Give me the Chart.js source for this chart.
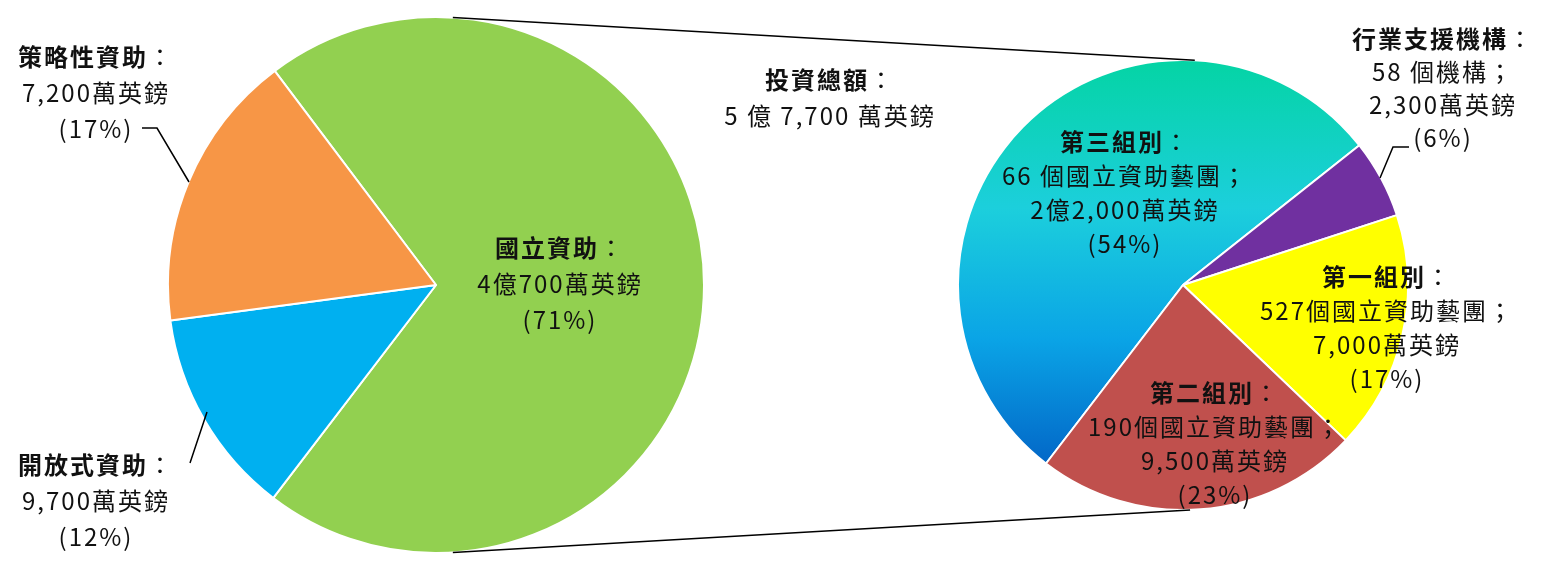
<!DOCTYPE html>
<html>
<head>
<meta charset="utf-8">
<script src="https://cdn.jsdelivr.net/npm/chart.js@4/dist/chart.umd.min.js"></script>
<style>
  body { margin: 0; background: #fff; width: 1545px; height: 575px; overflow: hidden; position: relative; font-family: "Noto Sans CJK TC", "Noto Sans", sans-serif; }
  .box { position: absolute; }
  #lines { position: absolute; left: 0; top: 0; pointer-events: none; }
  .lbl { position: absolute; text-align: center; font-size: 24px; line-height: 36px; color: #111; letter-spacing: 2px; white-space: nowrap; transform: translateX(-50%); }
  .lbl b { font-weight: bold; }
</style>
</head>
<body>
<div class="box" id="leftBox" style="left:167px; top:16px;"><canvas id="leftPie" width="538" height="538"></canvas></div>
<div class="box" id="rightBox" style="left:957px; top:59px;"><canvas id="rightPie" width="452" height="452"></canvas></div>
<canvas id="lines" width="1545" height="575"></canvas>

<div class="lbl" style="left:96px; top:38px;"><b>策略性資助</b>：<br>7,200萬英鎊<br>(17%)</div>
<div class="lbl" style="left:96px; top:446px;"><b>開放式資助</b>：<br>9,700萬英鎊<br>(12%)</div>
<div class="lbl" style="left:830px; top:61px;"><b>投資總額</b>：<br>5 億 7,700 萬英鎊</div>
<div class="lbl" style="left:560px; top:229px;"><b>國立資助</b>：<br>4億700萬英鎊<br>(71%)</div>
<div class="lbl" style="left:1443px; top:21px; line-height:33px;"><b>行業支援機構</b>：<br>58 個機構；<br>2,300萬英鎊<br>(6%)</div>
<div class="lbl" style="left:1125px; top:124px; line-height:34px;"><b>第三組別</b>：<br>66 個國立資助藝團；<br>2億2,000萬英鎊<br>(54%)</div>
<div class="lbl" style="left:1387px; top:259px; line-height:34px;"><b>第一組別</b>：<br>527個國立資助藝團；<br>7,000萬英鎊<br>(17%)</div>
<div class="lbl" style="left:1215px; top:375px; line-height:34px;"><b>第二組別</b>：<br>190個國立資助藝團；<br>9,500萬英鎊<br>(23%)</div>

<script>
// 左邊圓餅：資助類別（按圖中扇形大小）
var leftLabels = ['國立資助', '開放式資助', '策略性資助'];
var leftValues = [40700, 7200, 9700];
var leftColors = ['#92d050', '#00b0f0', '#f79646'];

// 右邊圓餅：國立資助細分（萬英鎊）
var rightLabels = ['第三組別', '行業支援機構', '第一組別', '第二組別'];
var rightValues = [22000, 2300, 7000, 9500];
var rightColors = ['teal', '#7030a0', '#ffff00', '#c0504d'];

// 第三組別用漸層色
function tealGradient(context) {
    var chart = context.chart;
    var area = chart.chartArea;
    if (!area) return '#1cc8d8';
    var g = chart.ctx.createLinearGradient(0, area.top, 0, area.bottom);
    g.addColorStop(0, '#04d4a4');
    g.addColorStop(0.33, '#1ccfdc');
    g.addColorStop(0.62, '#0aa4e6');
    g.addColorStop(1, '#0050bc');
    return g;
}

function pieOptions(rotation) {
    return {
        responsive: false,
        animation: false,
        rotation: rotation,
        layout: { padding: 0 },
        plugins: {
            legend: { display: false },
            tooltip: { enabled: false }
        }
    };
}

var leftChart = new Chart(document.getElementById('leftPie'), {
    type: 'pie',
    data: {
        labels: leftLabels,
        datasets: [{
            data: leftValues,
            backgroundColor: leftColors,
            borderColor: '#ffffff',
            borderWidth: 2
        }]
    },
    options: pieOptions(-37)
});

var rightChart = new Chart(document.getElementById('rightPie'), {
    type: 'pie',
    data: {
        labels: rightLabels,
        datasets: [{
            data: rightValues,
            backgroundColor: function(ctx) {
                return ctx.dataIndex === 0 ? tealGradient(ctx) : rightColors[ctx.dataIndex];
            },
            borderColor: '#ffffff',
            borderWidth: 2
        }]
    },
    options: pieOptions(217.5)
});

// 連接線及標籤引線
function pieGeom(chart, box) {
    var arc = chart.getDatasetMeta(0).data[0];
    var b = document.getElementById(box);
    return { x: arc.x + b.offsetLeft, y: arc.y + b.offsetTop, r: arc.outerRadius };
}

function onCircle(p, deg) {
    var a = deg * Math.PI / 180;
    return [p.x + p.r * Math.sin(a), p.y - p.r * Math.cos(a)];
}

function drawLines() {
    var L = pieGeom(leftChart, 'leftBox');
    var R = pieGeom(rightChart, 'rightBox');
    var ctx = document.getElementById('lines').getContext('2d');
    ctx.strokeStyle = '#000';
    ctx.lineWidth = 1.5;

    var a = onCircle(L, 3.6), b = onCircle(R, 3);
    ctx.beginPath(); ctx.moveTo(a[0], a[1]); ctx.lineTo(b[0], b[1]); ctx.stroke();
    a = onCircle(L, 176.4); b = onCircle(R, 178.2);
    ctx.beginPath(); ctx.moveTo(a[0], a[1]); ctx.lineTo(b[0], b[1]); ctx.stroke();

    // 引線
    ctx.beginPath(); ctx.moveTo(142, 128); ctx.lineTo(157, 128); ctx.lineTo(189, 182); ctx.stroke();
    ctx.beginPath(); ctx.moveTo(190, 463); ctx.lineTo(207, 412); ctx.stroke();
    ctx.beginPath(); ctx.moveTo(1409, 147); ctx.lineTo(1393, 147); ctx.lineTo(1380, 178); ctx.stroke();
}

drawLines();
</script>
</body>
</html>
